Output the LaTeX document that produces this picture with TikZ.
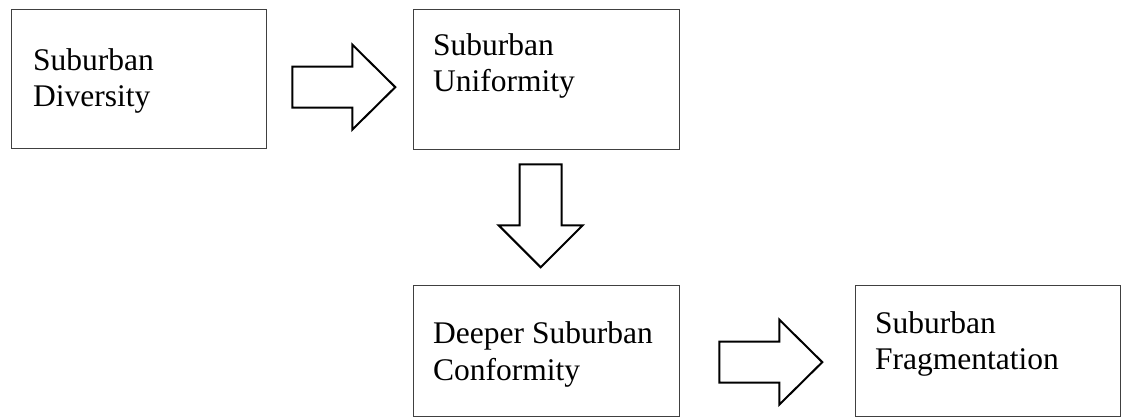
\documentclass[tikz,border=0pt]{standalone}
\usepackage{fontspec}
\setmainfont{Liberation Serif}
\usetikzlibrary{calc}
\begin{document}
\begin{tikzpicture}[x=1pt,y=-1pt,
  stagebox/.style={draw=black!75, line width=1.3pt, rectangle, inner sep=0pt, anchor=north west},
  stagetext/.style={anchor=base west, inner sep=0pt, font=\fontsize{31.5}{36}\selectfont},
  blockarrow/.style={draw=black, line width=2pt, fill=white, line join=miter},
  rarrow/.pic={\draw[blockarrow] (0,-20.5) -- (60,-20.5) -- (60,-42.5) -- (103,0)
                 -- (60,42.5) -- (60,20.5) -- (0,20.5) -- cycle;},
  darrow/.pic={\draw[blockarrow] (-21,0) -- (-21,61) -- (-42,61) -- (0,103)
                 -- (42,61) -- (21,61) -- (21,0) -- cycle;}]
  \useasboundingbox (0,0) rectangle (1122,417);

  % stage boxes
  \node[stagebox, minimum width=255pt, minimum height=139pt] (b1) at (11,9) {};
  \node[stagebox, minimum width=266pt, minimum height=140pt] (b2) at (413,9) {};
  \node[stagebox, minimum width=266pt, minimum height=131pt] (b3) at (413,285) {};
  \node[stagebox, minimum width=265pt, minimum height=131pt] (b4) at (855,285) {};

  % box labels
  \node[stagetext] (t1a) at (33,71) {Suburban};
  \node[stagetext] (t1b) at (33,107) {Diversity};
  \node[stagetext] (t2a) at (433,56) {Suburban};
  \node[stagetext] (t2b) at (433,92) {Uniformity};
  \node[stagetext] (t3a) at (433,343) {Deeper Suburban};
  \node[stagetext] (t3b) at (433,380) {Conformity};
  \node[stagetext] (t4a) at (875,333) {Suburban};
  \node[stagetext] (t4b) at (875,369) {Fragmentation};

  % block arrows between the stages
  \pic at ($(b1.east)+(25,8)$) {rarrow};
  \pic at ($(b2.south)+(-6,14)$) {darrow};
  \pic at ($(b3.east)+(39,11)$) {rarrow};
\end{tikzpicture}
\end{document}
